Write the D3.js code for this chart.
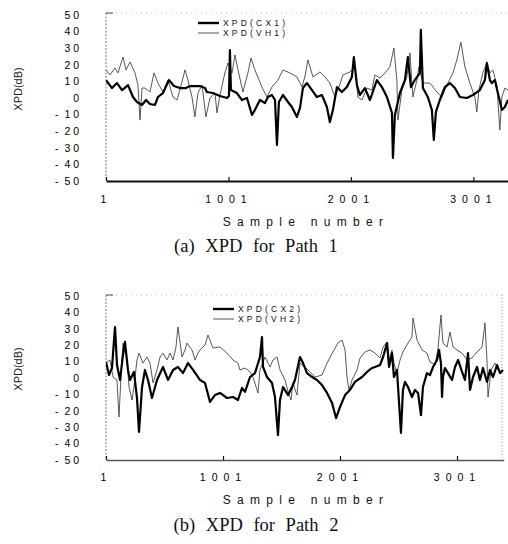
<!DOCTYPE html>
<html>
<head>
<meta charset="utf-8">
<script src="https://cdn.jsdelivr.net/npm/d3@7"></script>
<style>
  body { margin: 0; background: #fff; }
  svg { display: block; }
</style>
</head>
<body>
<div id="chart"></div>
<script>
// tick values shared by both panels
const yTicks = [50, 40, 30, 20, 10, 0, -10, -20, -30, -40, -50];
const xTicks = [1, 1001, 2001, 3001];

// Path 1, [sample, XPD dB]
const cx1 = [[1,10.8],[50,6.0],[91,9.0],[132,4.8],[181,7.8],[221,0.6],[254,-2.4],[295,-4.2],[328,-1.2],[360,-3.6],
  [401,-4.2],[425,0.6],[466,3.0],[515,10.8],[556,7.2],[605,6.0],[654,6.0],[687,7.2],[768,7.2],[809,6.0],
  [825,3.6],[874,3.0],[932,1.2],[989,0],[1005,1.2],[1013,28.9],[1021,4.8],[1070,3.0],[1111,-1.2],[1152,0],
  [1193,-10.2],[1217,-7.2],[1258,-1.2],[1299,-3.0],[1323,0.6],[1356,1.8],[1381,-1.2],[1397,-28.3],[1413,-2.4],[1446,1.8],
  [1487,-2.4],[1519,-5.4],[1560,-11.4],[1585,-6.0],[1609,6.0],[1642,9.0],[1683,4.8],[1723,0.6],[1764,1.8],[1805,-5.4],
  [1829,-14.5],[1854,-7.2],[1887,6.6],[1927,3.6],[1968,6.6],[2009,12.7],[2025,24.7],[2050,7.8],[2074,1.8],[2115,6.0],
  [2156,-1.2],[2213,10.8],[2254,6.6],[2295,0.6],[2336,-9.0],[2344,-36.1],[2360,-10.2],[2401,3.0],[2442,10.8],[2466,24.7],
  [2491,6.6],[2523,10.8],[2564,15.1],[2572,41.0],[2589,6.0],[2629,0.6],[2662,-7.2],[2678,-25.3],[2695,-8.4],[2727,-1.2],
  [2768,6.6],[2809,9.0],[2850,6.0],[2891,0.6],[2948,0],[2997,1.8],[3054,4.8],[3095,10.8],[3111,21.1],[3136,10.8],
  [3152,9.0],[3176,10.8],[3201,3.0],[3234,-7.2],[3258,-5.4],[3283,-1.2]];

const vh1 = [[1,16.9],[34,13.9],[74,18.1],[99,15.1],[140,24.7],[164,16.9],[197,21.7],[238,15.1],[262,7.8],[279,-13.3],
  [295,6.0],[319,6.0],[360,3.6],[393,15.1],[425,9.0],[466,3.6],[507,10.8],[548,0.6],[581,-1.2],[621,9.6],
  [646,16.9],[670,10.8],[703,0.6],[727,-11.4],[752,3.0],[785,7.8],[817,-11.4],[850,0],[891,3.0],[907,-9.0],
  [932,1.8],[972,15.1],[997,21.1],[1030,15.1],[1054,25.9],[1079,16.9],[1119,3.6],[1160,15.1],[1185,24.1],[1217,16.9],
  [1274,6.6],[1315,0.6],[1356,6.6],[1405,10.8],[1446,16.9],[1503,15.1],[1560,12.7],[1601,6.6],[1625,12.7],[1650,22.9],
  [1691,12.7],[1748,15.7],[1789,12.7],[1829,9.0],[1870,0.6],[1895,4.8],[1936,13.9],[1993,15.7],[2034,18.7],[2058,0.6],
  [2091,-1.2],[2132,6.0],[2172,4.8],[2197,13.9],[2238,12.0],[2279,15.1],[2319,18.7],[2352,30.1],[2376,10.8],[2385,-13.3],
  [2417,4.8],[2458,12.7],[2483,27.1],[2507,0.6],[2540,10.8],[2556,18.7],[2589,9.0],[2646,9.0],[2703,3.6],[2744,0.6],
  [2785,7.8],[2834,15.1],[2866,22.9],[2899,33.7],[2932,18.7],[2972,9.0],[3013,0.6],[3029,-8.4],[3046,4.8],[3078,15.1],
  [3111,21.1],[3136,15.1],[3160,16.9],[3193,7.8],[3217,-19.3],[3234,0.6],[3258,6.0],[3283,4.8]];

// Path 2
const cx2 = [[1,9.8],[27,1.8],[52,6.1],[78,31.1],[95,7.9],[121,-1.2],[146,14.0],[163,22.0],[189,4.9],[206,-1.2],
  [240,3.7],[266,-12.2],[283,-32.9],[309,-5.5],[334,4.9],[360,-1.2],[394,-12.2],[437,-1.2],[488,6.7],[531,-1.2],
  [574,4.9],[616,6.7],[659,3.0],[702,9.1],[745,4.9],[804,-1.2],[847,-3.0],[890,-14.6],[932,-10.4],[975,-9.1],
  [1035,-12.2],[1086,-11.6],[1129,-13.4],[1163,-6.1],[1189,-8.5],[1232,0.6],[1274,3.0],[1317,12.8],[1334,25.0],[1343,6.7],
  [1377,0.6],[1420,-3.0],[1445,-11.6],[1471,-34.8],[1488,-13.4],[1514,-5.5],[1557,-10.4],[1591,-5.5],[1616,-1.2],[1659,12.8],
  [1685,9.1],[1719,3.0],[1762,0.6],[1804,-1.2],[1847,-4.3],[1890,-9.1],[1933,-15.2],[1967,-24.4],[2001,-17.7],[2044,-10.4],
  [2086,-7.3],[2129,-2.4],[2189,0.6],[2232,3.7],[2274,6.1],[2300,6.7],[2343,7.9],[2369,12.8],[2403,21.3],[2420,6.7],
  [2445,15.2],[2462,0.6],[2488,4.9],[2497,-5.5],[2522,-33.5],[2539,-7.3],[2556,-2.4],[2582,-5.5],[2616,-11.6],[2642,-7.3],
  [2668,-9.1],[2693,-22.6],[2710,-5.5],[2744,3.0],[2770,1.8],[2796,6.7],[2830,11.0],[2847,17.1],[2864,9.1],[2873,-11.6],
  [2881,0.6],[2898,6.1],[2924,3.0],[2958,-1.2],[2984,6.7],[3010,11.0],[3044,3.7],[3069,-1.2],[3095,15.2],[3112,-7.3],
  [3138,0.6],[3172,6.7],[3197,-1.2],[3223,6.1],[3257,-2.4],[3283,4.9],[3309,0.6],[3343,7.9],[3369,3.0],[3394,4.9]];

const vh2 = [[1,9.1],[35,11.0],[61,0.6],[95,-1.2],[112,-23.8],[129,0.6],[146,21.3],[180,11.0],[198,-5.5],[223,-13.4],
  [240,-5.5],[266,11.0],[283,15.2],[317,9.1],[351,12.8],[377,9.1],[403,-3.0],[437,4.9],[463,12.8],[488,15.2],
  [522,11.0],[548,15.2],[574,11.0],[599,18.9],[616,31.1],[651,12.8],[676,17.1],[693,21.3],[736,17.1],[762,11.0],
  [787,15.2],[804,17.1],[847,20.1],[873,26.2],[915,18.3],[975,18.9],[1035,15.2],[1086,11.0],[1129,9.1],[1146,4.9],
  [1189,6.1],[1232,3.7],[1257,0.6],[1300,-9.1],[1317,4.9],[1360,12.8],[1403,6.7],[1428,11.0],[1463,12.8],[1488,4.9],
  [1531,-1.2],[1557,-8.5],[1582,-13.4],[1599,-3.0],[1633,-10.4],[1659,9.1],[1702,6.7],[1745,3.7],[1787,0.6],[1847,1.8],
  [1890,9.1],[1941,15.9],[1984,21.3],[2018,23.2],[2044,17.1],[2061,0.6],[2078,-7.3],[2104,-1.2],[2146,4.9],[2172,12.2],
  [2215,15.9],[2257,17.1],[2300,15.2],[2343,12.2],[2369,18.9],[2403,22.0],[2420,11.0],[2445,17.1],[2462,9.1],[2488,3.0],
  [2514,11.0],[2539,15.9],[2582,21.3],[2616,25.0],[2625,36.6],[2659,23.2],[2702,17.1],[2744,15.2],[2770,9.8],[2813,7.9],
  [2839,18.3],[2864,38.4],[2881,21.3],[2916,18.9],[2941,28.0],[2967,18.9],[3001,17.1],[3044,15.2],[3087,11.0],[3129,12.2],
  [3172,15.9],[3215,18.9],[3240,33.5],[3257,11.0],[3266,-11.6],[3292,4.9],[3326,9.1],[3369,3.0],[3394,4.9]];

const W = 508, H = 544;

// "-10" -> "- 1 0", the way the old spreadsheet printed it
const spaced = d => (d < 0 ? "-  " : "") + String(Math.abs(d)).split("").join(" ");

const svg = d3.select("#chart")
  .append("svg")
  .attr("width", W)
  .attr("height", H)
  .attr("viewBox", [0, 0, W, H]);

// layout for each panel
const panels = [
  { id: "p1", cx: cx1, vh: vh1, names: ["XPD(CX1)", "XPD(VH1)"], caption: "(a) XPD for Path 1",
    left: 106, right: 510, top: 15, bottom: 181, xMax: 3300, frameTop: 13, frameRight: null,
    legX: 198, legY: 23, tickY: 200, titleY: 222, capY: 246, boldAxis: true },
  { id: "p2", cx: cx2, vh: vh2, names: ["XPD(CX2)", "XPD(VH2)"], caption: "(b) XPD for Path 2",
    left: 106, right: 503.7, top: 296, bottom: 460, xMax: 3400, frameTop: 295, frameRight: 502,
    legX: 213, legY: 309, tickY: 478, titleY: 500, capY: 525, boldAxis: false }
];

panels.forEach(p => drawPanel(p));

function drawPanel(p) {
  const g = svg.append("g");

  const x = d3.scaleLinear().domain([1, p.xMax]).range([p.left, p.right]);
  const y = d3.scaleLinear().domain([-50, 50]).range([p.bottom, p.top]);

  // faint frame: dotted top / right, dotted left axis
  g.append("line")
    .attr("x1", p.left).attr("x2", p.frameRight || W)
    .attr("y1", p.frameTop).attr("y2", p.frameTop)
    .attr("stroke", "#bbb").attr("stroke-width", 1)
    .attr("stroke-dasharray", "1,4");
  if (p.frameRight) {
    g.append("line")
      .attr("x1", p.frameRight).attr("x2", p.frameRight)
      .attr("y1", p.frameTop).attr("y2", p.bottom)
      .attr("stroke", "#999").attr("stroke-width", 1)
      .attr("stroke-dasharray", "1,2");
  }
  g.append("line")
    .attr("x1", p.left).attr("x2", p.left)
    .attr("y1", p.frameTop).attr("y2", p.bottom)
    .attr("stroke", "#777").attr("stroke-width", 1)
    .attr("stroke-dasharray", "2,1.5");
  g.append("line")
    .attr("x1", p.left).attr("x2", p.left + 7)
    .attr("y1", p.frameTop).attr("y2", p.frameTop)
    .attr("stroke", "#444").attr("stroke-width", 1);

  // y axis labels
  const yAxis = d3.axisLeft(y)
    .tickValues(yTicks)
    .tickSize(0)
    .tickPadding(27)
    .tickFormat(spaced);
  g.append("g")
    .attr("transform", `translate(${p.left},0)`)
    .call(yAxis)
    .call(a => a.select(".domain").remove())
    .selectAll("text")
    .attr("font-family", "Liberation Sans, Arial, sans-serif")
    .attr("font-size", 10.5)
    .attr("fill", "#000")
    .attr("xml:space", "preserve")
    .style("white-space", "pre");

  // x axis, ticks pointing up
  const xAxis = d3.axisBottom(x)
    .tickValues(xTicks)
    .tickFormat(d3.format("d"))
    .tickSizeInner(-4)
    .tickSizeOuter(0)
    .tickPadding(p.tickY - p.bottom - 4);
  const xg = g.append("g")
    .attr("transform", `translate(0,${p.bottom})`)
    .call(xAxis);
  xg.select(".domain")
    .attr("stroke", p.boldAxis ? "#111" : "#555")
    .attr("stroke-width", p.boldAxis ? 2 : 1.5);
  xg.selectAll(".tick line").attr("stroke", "#111").attr("stroke-width", 1.2);
  xg.selectAll("text")
    .attr("font-family", "Liberation Sans, Arial, sans-serif")
    .attr("font-size", 10.5)
    .attr("fill", "#000")
    .style("letter-spacing", "6px");

  // axis titles
  g.append("text")
    .attr("transform", `translate(22,${(p.top + p.bottom) / 2 - 9}) rotate(-90)`)
    .attr("text-anchor", "middle")
    .attr("font-family", "Liberation Sans, Arial, sans-serif")
    .attr("font-size", 11)
    .attr("fill", "#222")
    .text("XPD(dB)");

  g.append("text")
    .attr("x", 306)
    .attr("y", p.titleY)
    .attr("dy", "0.35em")
    .attr("text-anchor", "middle")
    .attr("font-family", "Liberation Sans, Arial, sans-serif")
    .attr("font-size", 12)
    .attr("fill", "#111")
    .style("letter-spacing", "6.3px")
    .text("Sample number");

  g.append("text")
    .attr("x", 256)
    .attr("y", p.capY)
    .attr("dy", "0.35em")
    .attr("text-anchor", "middle")
    .attr("font-family", "Liberation Serif, Times New Roman, serif")
    .attr("font-size", 18.5)
    .attr("fill", "#111")
    .style("word-spacing", "6px")
    .text(p.caption);

  // series
  const clipId = "clip-" + p.id;
  svg.append("clipPath").attr("id", clipId)
    .append("rect")
    .attr("x", p.left).attr("y", p.top - 20)
    .attr("width", W - p.left).attr("height", p.bottom - p.top + 20);

  const line = d3.line()
    .x(d => x(d[0]))
    .y(d => y(d[1]));

  const plot = g.append("g").attr("clip-path", `url(#${clipId})`);

  plot.append("path")
    .datum(p.vh)
    .attr("d", line)
    .attr("fill", "none")
    .attr("stroke", "#444")
    .attr("stroke-width", 0.9)
    .attr("stroke-linejoin", "round");

  plot.append("path")
    .datum(p.cx)
    .attr("d", line)
    .attr("fill", "none")
    .attr("stroke", "#000")
    .attr("stroke-width", 2.2)
    .attr("stroke-linejoin", "round");

  // legend
  const styles = [{ w: 2.4, c: "#000" }, { w: 0.9, c: "#444" }];
  const leg = g.append("g")
    .selectAll("g")
    .data(p.names)
    .join("g")
    .attr("transform", (d, i) => `translate(${p.legX},${p.legY + i * 10})`);
  leg.append("line")
    .attr("x1", 0).attr("x2", 21)
    .attr("stroke", (d, i) => styles[i].c)
    .attr("stroke-width", (d, i) => styles[i].w);
  leg.append("text")
    .attr("x", 25)
    .attr("dy", "0.35em")
    .attr("font-family", "Liberation Sans, Arial, sans-serif")
    .attr("font-size", 8.5)
    .attr("fill", "#111")
    .style("letter-spacing", "3.2px")
    .text(d => d);
}
</script>
</body>
</html>
